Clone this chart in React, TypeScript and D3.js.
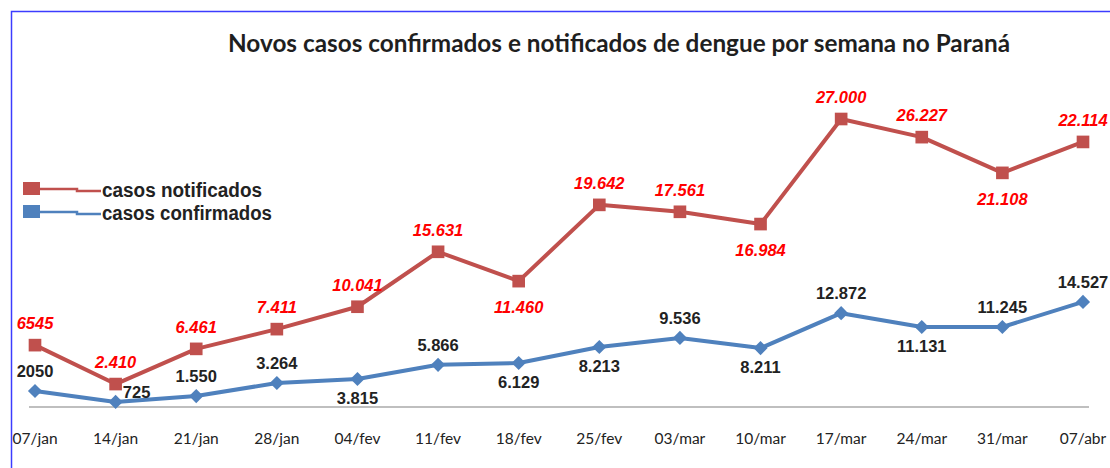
import React, { useRef, useEffect } from "react";
import * as d3 from "d3";

const weeks = ["07/jan", "14/jan", "21/jan", "28/jan", "04/fev", "11/fev", "18/fev", "25/fev", "03/mar", "10/mar", "17/mar", "24/mar", "31/mar", "07/abr"];

// plotted values
const notifiedValues = [5800, 2150, 5450, 7300, 9400, 14550, 11800, 18950, 18300, 17150, 27000, 25300, 21950, 24850];
const confirmedValues = [2200, 700, 1500, 3300, 3850, 5800, 6050, 8250, 9500, 8100, 12900, 11000, 11000, 14450];

// data labels as printed on the chart
const notifiedLabels = ["6545", "2.410", "6.461", "7.411", "10.041", "15.631", "11.460", "19.642", "17.561", "16.984", "27.000", "26.227", "21.108", "22.114"];
const confirmedLabels = ["2050", "725", "1.550", "3.264", "3.815", "5.866", "6.129", "8.213", "9.536", "8.211", "12.872", "11.131", "11.245", "14.527"];

const notifiedLabelSide = ["above", "above", "above", "above", "above", "above", "below", "above", "above", "below", "above", "above", "below", "above"];
const confirmedLabelSide = ["above", "right", "above", "above", "below", "above", "below", "below", "above", "below", "above", "below", "above", "above"];

const RED = "#c0504d";
const BLUE = "#4f81bd";

const App = () => {
    const svgRef = useRef<SVGSVGElement>(null);

    useEffect(() => {
        if (!svgRef.current) return;
        const width = 1110;
        const height = 468;

        const svg = d3.select(svgRef.current);
        svg.selectAll("*").remove();
        svg.attr("width", width).attr("height", height);

        svg.append("rect")
            .attr("x", 0).attr("y", 0)
            .attr("width", width).attr("height", height)
            .attr("fill", "white");

        // frame (only top and left visible)
        svg.append("path")
            .attr("d", `M11.5,${height} L11.5,11.5 L${width},11.5`)
            .attr("fill", "none")
            .attr("stroke", "#3c3cff")
            .attr("stroke-width", 1.5);

        svg.append("text")
            .attr("x", 619)
            .attr("y", 52)
            .attr("text-anchor", "middle")
            .attr("textLength", 782)
            .attr("lengthAdjust", "spacingAndGlyphs")
            .style("font-family", "Lato, 'Open Sans', sans-serif")
            .style("font-weight", 700)
            .style("font-size", "25px")
            .style("fill", "#1f1f1f")
            .text("Novos casos confirmados e notificados de dengue por semana no Paraná");

        const x = d3.scalePoint<string>()
            .domain(weeks)
            .range([35, 1083]);

        const yNotified = d3.scaleLinear().domain([0, 30000]).range([407, 87]);
        const yConfirmed = d3.scaleLinear().domain([0, 44000]).range([407, 87]);

        // category axis
        svg.append("line")
            .attr("x1", 29).attr("x2", 1089)
            .attr("y1", yNotified(0)).attr("y2", yNotified(0))
            .attr("stroke", "#bfbfbf")
            .attr("stroke-width", 2);

        svg.append("g")
            .selectAll("text")
            .data(weeks)
            .enter().append("text")
            .attr("x", d => x(d) as number)
            .attr("y", 444)
            .attr("text-anchor", "middle")
            .style("font-family", "Lato, 'Open Sans', sans-serif")
            .style("font-size", "15.5px")
            .style("fill", "#222")
            .text(d => d);

        const notified = weeks.map((w, i) => ({ w, v: notifiedValues[i], label: notifiedLabels[i], side: notifiedLabelSide[i] }));
        const confirmed = weeks.map((w, i) => ({ w, v: confirmedValues[i], label: confirmedLabels[i], side: confirmedLabelSide[i] }));

        const lineN = d3.line<any>().x(d => x(d.w) as number).y(d => yNotified(d.v));
        const lineC = d3.line<any>().x(d => x(d.w) as number).y(d => yConfirmed(d.v));

        svg.append("path")
            .datum(notified)
            .attr("fill", "none")
            .attr("stroke", RED)
            .attr("stroke-width", 4)
            .attr("stroke-linejoin", "round")
            .attr("d", lineN);

        svg.append("path")
            .datum(confirmed)
            .attr("fill", "none")
            .attr("stroke", BLUE)
            .attr("stroke-width", 4)
            .attr("stroke-linejoin", "round")
            .attr("d", lineC);

        const square = d3.symbol().type(d3.symbolSquare).size(160);
        const diamond = d3.symbol().type(d3.symbolSquare).size(100);

        svg.append("g")
            .selectAll("path")
            .data(notified)
            .enter().append("path")
            .attr("d", square)
            .attr("transform", d => `translate(${x(d.w)},${yNotified(d.v)})`)
            .attr("fill", RED);

        svg.append("g")
            .selectAll("path")
            .data(confirmed)
            .enter().append("path")
            .attr("d", diamond)
            .attr("transform", d => `translate(${x(d.w)},${yConfirmed(d.v)}) rotate(45)`)
            .attr("fill", BLUE);

        svg.append("g")
            .selectAll("text")
            .data(notified)
            .enter().append("text")
            .attr("x", d => x(d.w) as number)
            .attr("y", d => yNotified(d.v) + (d.side === "below" ? 26 : -22))
            .attr("text-anchor", "middle")
            .attr("dominant-baseline", "central")
            .style("font-family", "'Liberation Sans', Arial, sans-serif")
            .style("font-weight", 700)
            .style("font-style", "italic")
            .style("font-size", "16.5px")
            .style("fill", "#ff0000")
            .text(d => d.label);

        svg.append("g")
            .selectAll("text")
            .data(confirmed)
            .enter().append("text")
            .attr("x", d => (x(d.w) as number) + (d.side === "right" ? 21 : 0))
            .attr("y", d => yConfirmed(d.v) + (d.side === "below" ? 19 : d.side === "right" ? -10 : -20))
            .attr("text-anchor", "middle")
            .attr("dominant-baseline", "central")
            .style("font-family", "'Liberation Sans', Arial, sans-serif")
            .style("font-weight", 700)
            .style("font-size", "16.5px")
            .style("fill", "#222")
            .text(d => d.label);

        // legend
        const legendData = [
            { label: "casos notificados", color: RED, y: 189, len: 160 },
            { label: "casos confirmados", color: BLUE, y: 212, len: 170 }
        ];

        const legend = svg.selectAll(".legend")
            .data(legendData)
            .enter().append("g")
            .attr("class", "legend");

        legend.append("rect")
            .attr("x", 23)
            .attr("y", d => d.y - 7)
            .attr("width", 17)
            .attr("height", 13)
            .attr("fill", d => d.color);

        legend.append("path")
            .attr("d", d => `M40,${d.y} L77,${d.y} L77,${d.y + 2} L101,${d.y + 2}`)
            .attr("fill", "none")
            .attr("stroke", d => d.color)
            .attr("stroke-width", 2.5);

        legend.append("text")
            .attr("x", 102)
            .attr("y", d => d.y + 1)
            .attr("dominant-baseline", "central")
            .attr("textLength", d => d.len)
            .attr("lengthAdjust", "spacingAndGlyphs")
            .style("font-family", "'Liberation Sans', Arial, sans-serif")
            .style("font-weight", 700)
            .style("font-size", "20px")
            .style("fill", "#222")
            .text(d => d.label);
    }, []);

    return (
        <div style={{ position: "absolute", left: 0, top: 0 }}>
            <svg ref={svgRef} style={{ display: "block" }}></svg>
        </div>
    );
};

export default App;
